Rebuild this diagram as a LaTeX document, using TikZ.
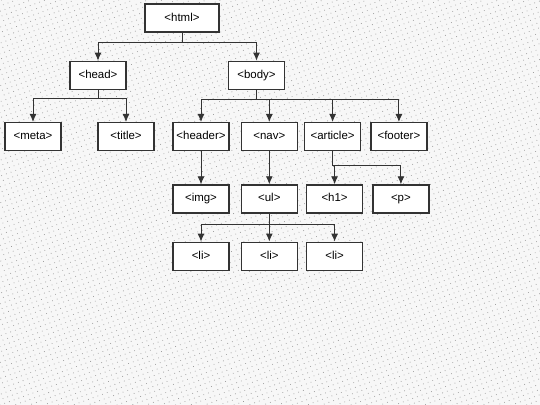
\documentclass[tikz,border=0pt]{standalone}
\usepackage{fontspec}
\setmainfont{Liberation Sans}
\usetikzlibrary{arrows.meta,positioning,patterns.meta}
\tikzset{domtree/.style={node distance=28bp},
     tagbox/.style={
       rectangle,
       draw=black!80,
       fill=white,
       line width=1.3bp,
       minimum width=56bp,
       minimum height=28bp,
       inner sep=0,
       text height=8bp,
       text depth=2bp,
       font=\fontsize{11.5}{13}\selectfont
     },
     rootbox/.style={tagbox,minimum width=74bp},
     link/.style={draw=black!80,line width=0.9bp,-{Latex[length=8bp,width=7bp]}}
}

\begin{document}
\begin{tikzpicture}[domtree]
    \fill[black!3] (0,0) rectangle (540bp,-405bp);
    \fill[pattern={Dots[radius=0.5bp,distance=5bp,angle=20]},pattern color=black!40] (0,0) rectangle (540bp,-405bp);
    \useasboundingbox (0,0) rectangle (540bp,-405bp);

    \node[rootbox] (html) at (182bp,-18bp) {<html>};

    \node[tagbox] (head) [below=of html,xshift=-84bp] {<head>};
    \node[tagbox] (body) [below=of html,xshift=74.5bp] {<body>};

    \node[tagbox] (meta) [below=32bp of head,xshift=-65bp] {<meta>};
    \node[tagbox] (title) [below=32bp of head,xshift=28bp] {<title>};

    \node[tagbox] (header) [below=32bp of body,xshift=-55.5bp] {<header>};
    \node[tagbox] (nav) [right=11bp of header] {<nav>};
    \node[tagbox] (article) [right=6bp of nav] {<article>};
    \node[tagbox] (footer) [right=9bp of article] {<footer>};

    \node[tagbox] (img) [below=33bp of header] {<img>};
    \node[tagbox] (ul) [below=33bp of nav] {<ul>};
    \node[tagbox] (h1) [below=33bp of article,xshift=2bp] {<h1>};
    \node[tagbox] (p) [right=9bp of h1] {<p>};

    \node[tagbox] (li1) [below=of img] {<li>};
    \node[tagbox] (li2) [below=of ul] {<li>};
    \node[tagbox] (li3) [below=of h1] {<li>};

    % html
    \draw[link] (html.south) -- ++(0,-10bp) -| (head.north);
    \draw[link] (html.south) -- ++(0,-10bp) -| (body.north);
    % head
    \draw[link] (head.south) -- ++(0,-8bp) -| (meta.north);
    \draw[link] (head.south) -- ++(0,-8bp) -| (title.north);
    % body
    \foreach \kid in {header,nav,article,footer}
      \draw[link] (body.south) -- ++(0,-9bp) -| (\kid.north);
    % header, nav
    \draw[link] (header.south) -- (img.north);
    \draw[link] (nav.south) -- (ul.north);
    % article
    \draw[link] (article.south) -- ++(0,-14bp) -| (h1.north);
    \draw[link] (article.south) -- ++(0,-14bp) -| (p.north);
    % ul
    \foreach \kid in {li1,li2,li3}
      \draw[link] (ul.south) -- ++(0,-11bp) -| (\kid.north);
\end{tikzpicture}
\end{document}
